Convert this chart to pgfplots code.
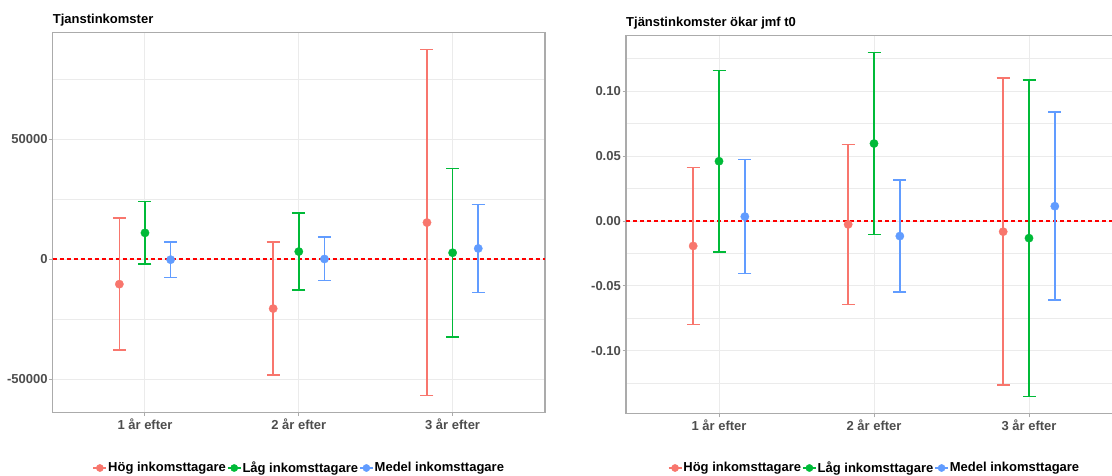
\documentclass[border=0pt]{standalone}
\usepackage{fontspec}
\setmainfont{Liberation Sans}
\usepackage{pgfplots}
\pgfplotsset{compat=1.18}
\usepackage{pgfplotstable}

\definecolor{hog}{HTML}{F8766D}
\definecolor{lag}{HTML}{00BA38}
\definecolor{medel}{HTML}{619CFF}
\definecolor{gridc}{HTML}{EBEBEB}
\definecolor{framec}{HTML}{ABABAB}
\definecolor{ticktext}{HTML}{4D4D4D}

% Tjanstinkomster: estimate with lower and upper bound of the interval
\pgfplotstableread{
cat y lo hi
1 -10400 -37800 17100
2 -20600 -48300 7100
3 15300 -56800 87500
}\hogA
\pgfplotstableread{
cat y lo hi
1 11000 -2100 24100
2 3200 -12900 19300
3 2700 -32400 37900
}\lagA
\pgfplotstableread{
cat y lo hi
1 -200 -7700 7300
2 100 -8900 9200
3 4500 -13900 22900
}\medelA

% Tjanstinkomster okar jmf t0
\pgfplotstableread{
cat y lo hi
1 -0.0192 -0.0797 0.0413
2 -0.0026 -0.0641 0.0590
3 -0.0082 -0.1264 0.1100
}\hogB
\pgfplotstableread{
cat y lo hi
1 0.0460 -0.0238 0.1159
2 0.0596 -0.0103 0.1295
3 -0.0132 -0.1351 0.1087
}\lagB
\pgfplotstableread{
cat y lo hi
1 0.0034 -0.0405 0.0474
2 -0.0116 -0.0546 0.0315
3 0.0114 -0.0610 0.0838
}\medelB

\newcommand{\ggfont}{\fontsize{13}{15}\selectfont\bfseries}

\pgfplotsset{
  ggpanel/.style={
    scale only axis,
    scaled y ticks=false,
    xmin=0.4, xmax=3.6,
    xtick={1,2,3},
    xticklabels={1 år efter, 2 år efter, 3 år efter},
    xmajorgrids, ymajorgrids, yminorgrids,
    major grid style={draw=gridc, line width=1pt},
    minor grid style={draw=gridc, line width=0.6pt},
    tick align=outside,
    tick pos=left,
    major tick length=3.5pt,
    minor tick length=0pt,
    every tick/.style={draw=framec, line width=1pt},
    axis line style={draw=framec, line width=1.2pt},
    tick label style={font=\ggfont, text=ticktext, inner sep=0pt},
    xticklabel style={anchor=base},
    x tick label style={yshift=-13pt},
    y tick label style={xshift=-1.5pt},
    title style={font=\ggfont, text=black, at={(0,1)}, anchor=base west, inner sep=0pt},
    legend columns=-1,
    legend style={at={(0.5,0)}, anchor=center, draw=none, fill=none,
      inner sep=0pt, outer sep=0pt, column sep=0pt,
      font=\ggfont, text=black,
      nodes={inner sep=0pt, inner xsep=1pt},
      /tikz/every even column/.append style={column sep=0pt}},
  },
  zeroline/.style={red, mark=none, line width=1.5pt, dash pattern=on 4pt off 3pt, forget plot},
  group/.style={
    only marks, mark=*, mark size=4.2pt, color=#1,
    mark options={fill=#1, draw=#1, line width=0.3pt},
    error bars/.cd, y dir=both, y explicit,
    error bar style={line width=1.6pt, color=#1},
    error mark options={rotate=90, mark size=6.5pt, line width=1.6pt, color=#1},
    /pgfplots/legend image code/.code={
      \draw[#1, line width=1.6pt] (0pt,0pt) -- (13pt,0pt);
      \fill[#1] (6.5pt,0pt) circle (3.6pt);
    },
  },
  /pgfplots/table/ci/.style={x expr=\thisrow{cat}+#1, y=y,
    y error plus expr=\thisrow{hi}-\thisrow{y},
    y error minus expr=\thisrow{y}-\thisrow{lo}},
}

\begin{document}
\begin{tikzpicture}
% page size; the right panel runs past the right edge and is cut there
\useasboundingbox (0pt,0pt) rectangle (1112pt,475pt);

\begin{axis}[ggpanel,
  at={(52.7pt,62.4pt)}, anchor=south west,
  width=492.2pt, height=380.3pt,
  ymin=-64015, ymax=94715,
  ytick={-50000,0,50000},
  yticklabels={-50000,0,50000},
  minor ytick={-25000,25000,75000},
  title={Tjanstinkomster},
  title style={yshift=2.3pt},
  legend style={yshift=-55.4pt},
]
\addplot[zeroline] coordinates {(0.4,0) (3.6,0)};
\addplot[group=hog] table[ci=-0.16667] {\hogA};
\addlegendentry{Hög inkomsttagare}
\addplot[group=lag] table[ci=0] {\lagA};
\addlegendentry{Låg inkomsttagare}
\addplot[group=medel] table[ci=0.16667] {\medelA};
\addlegendentry{Medel inkomsttagare}
\end{axis}

\begin{axis}[ggpanel,
  at={(626pt,61.2pt)}, anchor=south west,
  width=496pt, height=378.3pt,
  ymin=-0.14833, ymax=0.14273,
  ytick={-0.1,-0.05,0,0.05,0.1},
  yticklabels={-0.10,-0.05,0.00,0.05,0.10},
  minor ytick={-0.125,-0.075,-0.025,0.025,0.075,0.125},
  title={Tjänstinkomster ökar jmf t0},
  title style={yshift=3pt},
  legend style={yshift=-54.2pt},
]
\addplot[zeroline] coordinates {(0.4,0) (3.6,0)};
\addplot[group=hog] table[ci=-0.16667] {\hogB};
\addlegendentry{Hög inkomsttagare}
\addplot[group=lag] table[ci=0] {\lagB};
\addlegendentry{Låg inkomsttagare}
\addplot[group=medel] table[ci=0.16667] {\medelB};
\addlegendentry{Medel inkomsttagare}
\end{axis}
\end{tikzpicture}
\end{document}
